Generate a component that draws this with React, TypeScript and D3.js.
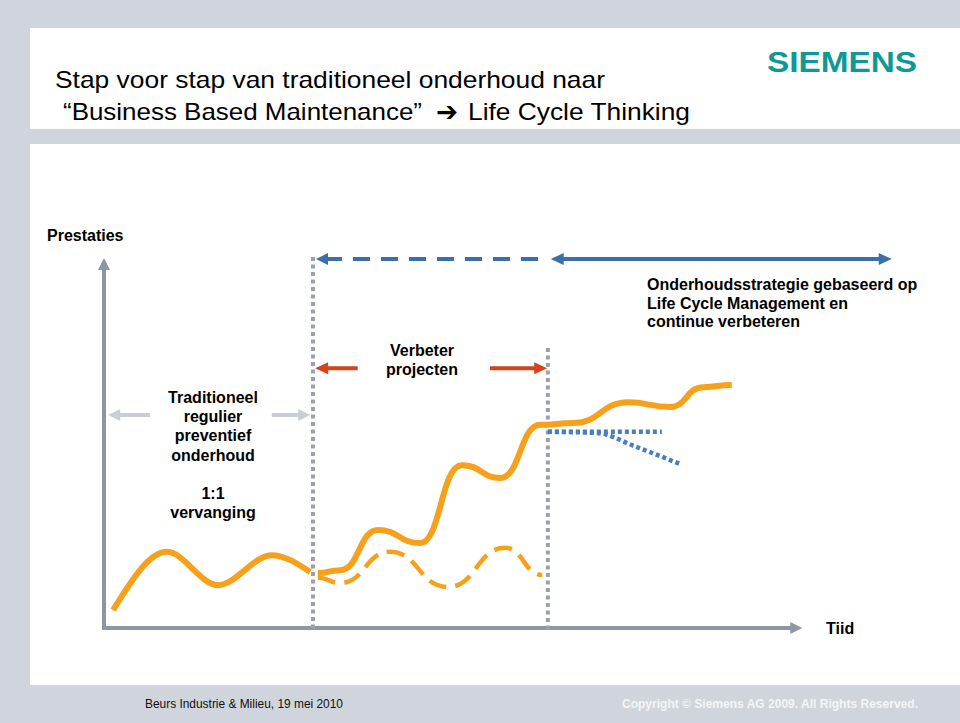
import React from "react";
import * as d3 from "d3";

// ---- Data (time t: 0..100 along the x axis, performance v: 0..100 along the y axis) ----
const traditionalT = [1.3, 9.0, 16.3, 24.0, 29.5];
const traditionalV = [4.9, 20.8, 11.7, 19.9, 15.3];

const improvedT = [30.6, 33.8, 39.2, 45.2, 51.2, 56.7, 62.4, 67.1, 75.0, 81.0, 85.7, 89.8];
const improvedV = [15.0, 15.8, 26.8, 23.2, 44.5, 41.0, 55.5, 56.0, 61.7, 60.4, 65.8, 66.4];

const baselineT = [30.6, 33.8, 40.9, 49.2, 57.4, 62.7];
const baselineV = [13.7, 12.3, 20.8, 11.2, 21.9, 14.5];

const plateauT = [63.5, 79.8];
const plateauV = [53.6, 53.6];

const declineT = [63.5, 70.5, 76.0, 82.4];
const declineV = [53.6, 53.3, 49.6, 44.8];

// phase boundaries (time) and the top of their dotted markers (performance)
const phaseT = [29.9, 63.5];
const phaseTopV = [101.4, 76.5];

const titleLines = ["Stap voor stap van traditioneel onderhoud naar"];
const titleLine2 = ["\u201CBusiness Based Maintenance\u201D", "\u2794", "Life Cycle Thinking"];
const tradLabel = ["Traditioneel", "regulier", "preventief", "onderhoud", "", "1:1", "vervanging"];
const projLabel = ["Verbeter", "projecten"];
const lcmLabel = ["Onderhoudsstrategie gebaseerd op", "Life Cycle Management en", "continue verbeteren"];
const yLabel = "Prestaties";
const xLabel = "Tiid";
const footerLeft = "Beurs Industrie & Milieu, 19 mei 2010";
const footerRight = "Copyright \u00A9 Siemens AG 2009. All Rights Reserved.";

const W = 960;
const H = 723;
const BG = "#d0d4dc";
const ORANGE = "#f7a01c";
const BLUE = "#3b6fa8";
const BLUE_DOT = "#4a7fbe";
const RED = "#d4431d";
const AXIS = "#8d96a3";
const DOT_GRAY = "#9aa1ab";
const LIGHT = "#c9cdd5";
const FONT = "'Liberation Sans', Arial, Helvetica, sans-serif";

type P = { t: number; v: number };
const zip = (ts: number[], vs: number[]): P[] => ts.map((t, i) => ({ t, v: vs[i] }));

export default function App() {
  const x = d3.scaleLinear().domain([0, 100]).range([104, 803]);
  const y = d3.scaleLinear().domain([0, 100]).range([628, 262]);

  const smooth = d3
    .line<P>()
    .x((d) => x(d.t))
    .y((d) => y(d.v))
    .curve(d3.curveMonotoneX);
  const wave = d3
    .line<P>()
    .x((d) => x(d.t))
    .y((d) => y(d.v))
    .curve(d3.curveBumpX);
  const straight = d3
    .line<P>()
    .x((d) => x(d.t))
    .y((d) => y(d.v));

  const head = (tx: number, ty: number, dir: "l" | "r" | "u", len: number, hw: number, color: string) => {
    let pts: [number, number][];
    if (dir === "l") pts = [[tx, ty], [tx + len, ty - hw], [tx + len, ty + hw]];
    else if (dir === "r") pts = [[tx, ty], [tx - len, ty - hw], [tx - len, ty + hw]];
    else pts = [[tx, ty], [tx - hw, ty + len], [tx + hw, ty + len]];
    return <polygon points={pts.map((p) => p.join(",")).join(" ")} fill={color} />;
  };

  // annotation arrow levels (performance units)
  const vBlue = 100.8;
  const vRed = 71.0;
  const vGray = 58.2;

  const yAxisTop = 101.4;
  const xAxisEnd = 99.9;

  return (
    <svg
      width={W}
      height={H}
      style={{ position: "absolute", left: 0, top: 0, display: "block" }}
      fontFamily={FONT}
    >
      <rect x={0} y={0} width={W} height={H} fill={BG} />
      <rect x={30} y={28} width={930} height={101} fill="#ffffff" />
      <rect x={30} y={144} width={930} height={541} fill="#ffffff" />

      {/* Title */}
      <text x={55} y={88} fontSize={24} fill="#000" textLength={550} lengthAdjust="spacingAndGlyphs">
        {titleLines[0]}
      </text>
      <text x={63} y={120} fontSize={24} fill="#000" textLength={359} lengthAdjust="spacingAndGlyphs">
        {titleLine2[0]}
      </text>
      <text
        x={436}
        y={121}
        fontSize={27}
        fill="#000"
        fontFamily="'DejaVu Sans', sans-serif"
        fontWeight="bold"
        textLength={22}
        lengthAdjust="spacingAndGlyphs"
      >
        {titleLine2[1]}
      </text>
      <text x={468} y={120} fontSize={24} fill="#000" textLength={222} lengthAdjust="spacingAndGlyphs">
        {titleLine2[2]}
      </text>

      {/* Logo */}
      <text
        x={767}
        y={72}
        fontSize={30}
        fontWeight="bold"
        fill="#0f9995"
        textLength={150}
        lengthAdjust="spacingAndGlyphs"
      >
        SIEMENS
      </text>

      {/* Axes */}
      <line x1={x(0)} y1={y(0)} x2={x(0)} y2={y(yAxisTop) + 10} stroke={AXIS} strokeWidth={4} />
      {head(x(0), y(yAxisTop) + 1, "u", 12, 6, AXIS)}
      <line x1={x(0) - 2} y1={y(0)} x2={x(xAxisEnd) - 10} y2={y(0)} stroke={AXIS} strokeWidth={4} />
      {head(x(xAxisEnd), y(0), "r", 12, 6, AXIS)}

      {/* Phase dotted markers */}
      {phaseT.map((t, i) => (
        <line
          key={i}
          x1={x(t)}
          y1={y(phaseTopV[i])}
          x2={x(t)}
          y2={y(0) + 2}
          stroke={DOT_GRAY}
          strokeWidth={4}
          strokeDasharray="4 3.5"
        />
      ))}

      {/* Blue dashed arrow (phase 2+3) */}
      <line
        x1={x(phaseT[0]) + 12}
        y1={y(vBlue)}
        x2={x(63.9) - 2}
        y2={y(vBlue)}
        stroke={BLUE}
        strokeWidth={4}
        strokeDasharray="17 11"
      />
      {head(x(phaseT[0]) + 3, y(vBlue), "l", 12, 6, BLUE)}
      {/* Blue solid double arrow (phase 3) */}
      <line x1={x(63.9) + 10} y1={y(vBlue)} x2={x(112.7) - 10} y2={y(vBlue)} stroke={BLUE} strokeWidth={4} />
      {head(x(63.9), y(vBlue), "l", 13, 6, BLUE)}
      {head(x(112.7), y(vBlue), "r", 13, 6, BLUE)}

      {/* Red arrows (phase 2) */}
      <line x1={x(30.2) + 10} y1={y(vRed)} x2={x(36.3)} y2={y(vRed)} stroke={RED} strokeWidth={4} />
      {head(x(30.2), y(vRed), "l", 13, 6, RED)}
      <line x1={x(55.2)} y1={y(vRed)} x2={x(63.4) - 10} y2={y(vRed)} stroke={RED} strokeWidth={4} />
      {head(x(63.4), y(vRed), "r", 13, 6, RED)}

      {/* Light gray arrows (phase 1) */}
      <line x1={x(0.6) + 10} y1={y(vGray)} x2={x(6.6)} y2={y(vGray)} stroke={LIGHT} strokeWidth={4} />
      {head(x(0.6), y(vGray), "l", 12, 6, LIGHT)}
      <line x1={x(24.0)} y1={y(vGray)} x2={x(29.5) - 10} y2={y(vGray)} stroke={LIGHT} strokeWidth={4} />
      {head(x(29.5), y(vGray), "r", 12, 6, LIGHT)}

      {/* Curves */}
      <path
        d={wave(zip(baselineT, baselineV)) || ""}
        fill="none"
        stroke={ORANGE}
        strokeWidth={4.5}
        strokeDasharray="18 9"
      />
      <path
        d={straight(zip(plateauT, plateauV)) || ""}
        fill="none"
        stroke={BLUE_DOT}
        strokeWidth={4.5}
        strokeDasharray="4 3"
      />
      <path
        d={smooth(zip(declineT, declineV)) || ""}
        fill="none"
        stroke={BLUE_DOT}
        strokeWidth={4.5}
        strokeDasharray="4 3"
      />
      <path
        d={smooth(zip(traditionalT, traditionalV)) || ""}
        fill="none"
        stroke={ORANGE}
        strokeWidth={6}
        strokeLinecap="butt"
      />
      <path
        d={wave(zip(improvedT, improvedV)) || ""}
        fill="none"
        stroke={ORANGE}
        strokeWidth={6}
        strokeLinecap="butt"
      />

      {/* Labels */}
      <text x={47} y={241} fontSize={16} fontWeight="bold" fill="#000">
        {yLabel}
      </text>
      <text x={826} y={634} fontSize={16} fontWeight="bold" fill="#000">
        {xLabel}
      </text>
      {tradLabel.map((s, i) => (
        <text key={i} x={213} y={403 + i * 19.2} fontSize={16} fontWeight="bold" textAnchor="middle" fill="#000">
          {s}
        </text>
      ))}
      {projLabel.map((s, i) => (
        <text key={i} x={422} y={356 + i * 19} fontSize={16} fontWeight="bold" textAnchor="middle" fill="#000">
          {s}
        </text>
      ))}
      {lcmLabel.map((s, i) => (
        <text key={i} x={647} y={290 + i * 18.5} fontSize={16} fontWeight="bold" fill="#000">
          {s}
        </text>
      ))}

      {/* Footer */}
      <text x={145} y={708} fontSize={13} fill="#111" textLength={198} lengthAdjust="spacingAndGlyphs">
        {footerLeft}
      </text>
      <text
        x={622}
        y={708}
        fontSize={13}
        fontWeight="bold"
        fill="#f4f5f8"
        textLength={296}
        lengthAdjust="spacingAndGlyphs"
      >
        {footerRight}
      </text>
    </svg>
  );
}
